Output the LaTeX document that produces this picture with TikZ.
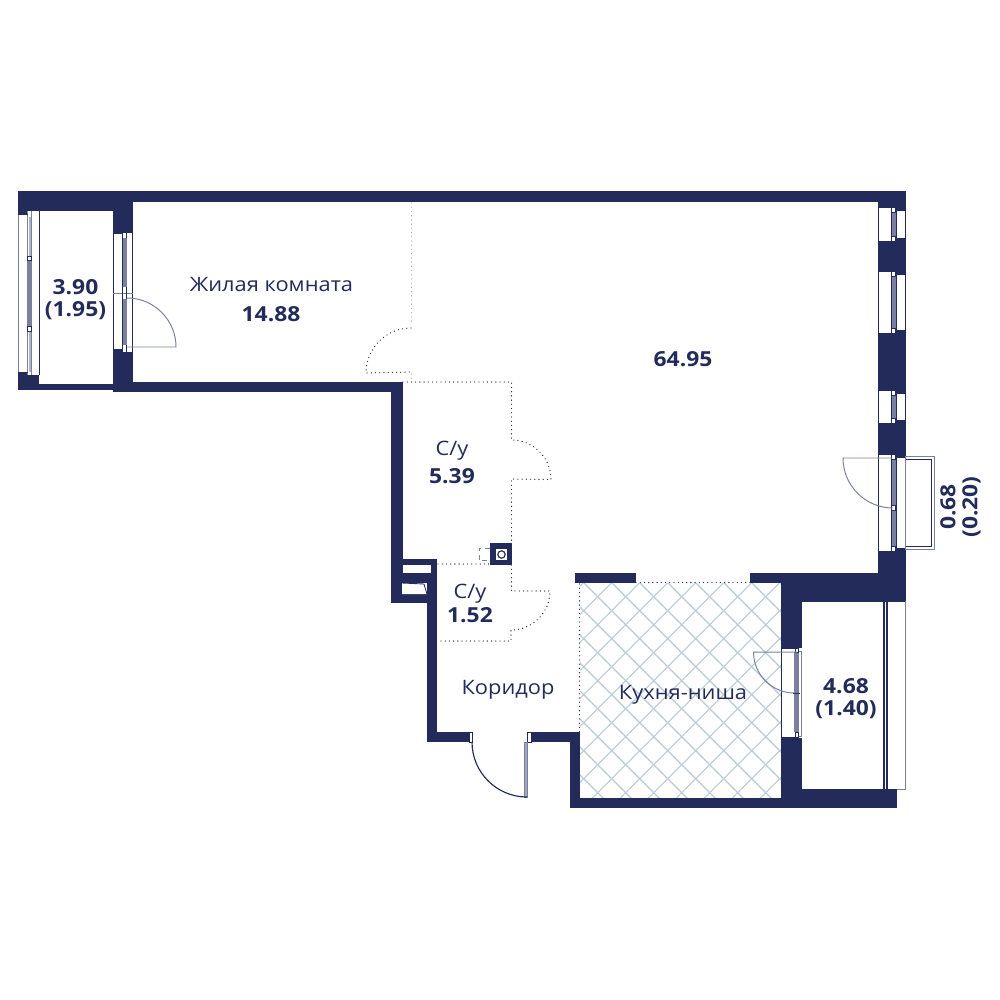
\documentclass[tikz,border=0pt]{standalone}
\usepackage{fontspec}
\setmainfont{Open Sans}[FakeStretch=1.1]
\definecolor{navy}{HTML}{232B5A}
\definecolor{hatch}{HTML}{B9CAD4}
\definecolor{frame}{HTML}{7A80A0}
\tikzset{
 wall/.style={fill=navy,draw=none},
 thin/.style={draw=navy,line width=0.25pt},
 swing/.style={draw=frame,line width=0.28pt},
 dots/.style={draw=navy,line width=0.38pt,line cap=round,dash pattern=on 0pt off 1.2pt},
 lbl/.style={text=navy,font=\fontsize{5.65}{6.4}\selectfont,align=center,inner sep=0pt},
 num/.style={text=navy,font=\fontsize{5.9}{6.3}\selectfont\bfseries,align=center,inner sep=0pt},
}
\begin{document}
\begin{tikzpicture}[x=0.01cm,y=-0.01cm]
\useasboundingbox (0,0) rectangle (1000,1000);
% hatch
\begin{scope}
\clip (580,583) rectangle (781,798);
\foreach \c in {-10,...,30}{
 \draw[hatch,line width=0.32pt] ({1194.4+\c*28-583},583) -- ++(-300,300);
 \draw[hatch,line width=0.32pt] ({1+\c*28+583},583) -- ++(300,300);
}
\end{scope}
% walls
\fill[wall] (18,191) rectangle (906,202);
\fill[wall] (18,191) rectangle (39,214);
\fill[wall] (39,191) rectangle (113,211);
\fill[wall] (18,372) rectangle (39,390);
\fill[wall] (18,384) rectangle (133,390);
\fill[wall] (113,191) rectangle (133,234);
\fill[wall] (113,349) rectangle (133,392);
\fill[wall] (133,382) rectangle (403,392);
\fill[wall] (391,382) rectangle (403,603);
\fill[wall] (391,559) rectangle (437,565);
\fill[wall] (391,593) rectangle (437,603);
\fill[wall] (427,573) rectangle (437,742);
\fill[wall] (431,559) rectangle (437,600);
\fill[wall] (402,573) rectangle (437,583);
\fill[wall] (427,732) rectangle (469,742);
\fill[wall] (531,732) rectangle (580,742);
\fill[wall] (570,732) rectangle (580,808);
\fill[wall] (570,798) rectangle (897,808);
\fill[wall] (781,573) rectangle (802,648);
\fill[wall] (781,738) rectangle (802,808);
\fill[wall] (750,573) rectangle (906,583);
\fill[wall] (781,583) rectangle (906,601);
\fill[wall] (878,191) rectangle (906,601);
\fill[wall] (575,573) rectangle (636,583);
% shaft inner sloped line
\fill[white] (402,583) -- (424,584) -- (427,594) -- (402,594) -- cycle;
\draw[thin] (402,583) -- (424,584) -- (427,594);
% left balcony frame
\fill[white] (18,214) rectangle (28,372);
\draw[swing] (18.5,214) -- (18.5,372);
\fill[white] (28,211) rectangle (39,375);
\draw[thin] (39,211) -- (39,375);
\draw[swing] (27.5,211) -- (27.5,375) (31,211) -- (31,375);
\draw[thin] (18,214) -- (28,214) (18,372) -- (28,372);
\fill[frame!60] (28.5,217) rectangle (30.5,256);
\fill[frame] (28,260) rectangle (31,326);
\fill[frame!60] (28.5,331) rectangle (30.5,372);
\draw[thin,fill=white] (27.5,256) rectangle (31,260) (27.5,326) rectangle (31,331);
% door window to the room
\fill[white] (113,234) rectangle (123,349);
\fill[white] (123,232) rectangle (132.5,352);
\draw[thin] (113,234) -- (113,349) (132.5,232) -- (132.5,352);
\draw[swing] (113,293) -- (133,293);
\draw[thin] (122.5,232) -- (122.5,352) (126.5,232) -- (126.5,352) (122.5,232) -- (132.5,232) (122.5,352) -- (132.5,352);
\fill[frame] (122.5,238) rectangle (126.5,287);
\fill[frame] (122.5,299) rectangle (126.5,345);
\draw[swing] (127,298) arc[start angle=-90,end angle=0,radius=49] -- (127,347);
% right windows
\foreach \a/\b in {207/241,271/333,390/423,454/551}{
 \fill[white] (878,\a) rectangle (892,\b);
 \draw[thin] (892,\a) -- (878.3,\a) -- (878.3,\b) -- (892,\b);
 \fill[white] (892,{\a+3}) rectangle (905.5,{\b-3});
 \draw[thin] (892,{\a+3}) -- (905.5,{\a+3}) -- (905.5,{\b-3}) -- (892,{\b-3});
 \fill[frame] (891.5,{\a+5}) rectangle (896,{\b-5});
 \draw[thin] (891.5,{\a+5}) -- (891.5,{\b-5}) (896,{\a+3}) -- (896,{\b-3});
 \draw[thin,fill=white] (891.5,\a) rectangle (895,{\a+5}) (891.5,{\b-5}) rectangle (895,\b);
}
\draw[thin,fill=white] (891.5,505) rectangle (895,510);
% small balcony
\draw[swing] (905.5,456) rectangle (934,549);
\draw[thin] (905.5,459) -- (931.5,459) -- (931.5,546) -- (905.5,546);
\draw[swing] (892,458) -- (843,458) arc[start angle=180,end angle=90,radius=50];
% lower-right balcony
\fill[white] (802,601) rectangle (905,789);
\fill[wall] (802,789) rectangle (897,808);
\draw[thin] (802,601) -- (905,601);
\draw[swing] (905,601) -- (905,789) -- (897,789);
\draw[navy,line width=0.35pt] (884,601) -- (884,789) (887,601) -- (887,789);
% kitchen window
\fill[white] (781,648) rectangle (798,737);
\fill[white] (798,651) rectangle (802,736);
\draw[thin] (798,648) -- (781.5,648) -- (781.5,737) -- (798,737);
\draw[swing] (798,651) -- (801.5,651) -- (801.5,736) -- (798,736);
\fill[frame] (794,652) rectangle (799,732);
\draw[thin,fill=white] (795,648) rectangle (798,652) (795,732) rectangle (798,737);
\draw[thin] (793,693) -- (800,693);
\draw[swing] (797,652) -- (753.5,652) arc[start angle=180,end angle=90,radius=41];
% entrance door
\draw[thin,fill=white] (469,732) rectangle (472,742);
\draw[thin,fill=white] (527,732) rectangle (531,742);
\fill[frame!70] (524.5,742) rectangle (527.5,797);
\draw[swing] (524.5,742) rectangle (527.5,797);
\draw[navy,line width=0.33pt] (472,742) arc[start angle=180,end angle=90,radius=55];
% dotted partitions
\draw[dots,draw=gray!60] (411.5,203) -- (411.5,324);
\draw[dots] (411,328) arc[start angle=-90,end angle=-180,radius=45] -- (411,372);
\draw[dots,draw=gray!60] (411.5,374) -- (411.5,382);
\draw[dots] (403,382) -- (511.5,382) -- (511.5,440) arc[start angle=-90,end angle=0,radius=39.5] -- (511.5,479) -- (511.5,544);
\draw[dots] (511.5,565) -- (511.5,591) -- (550,591) arc[start angle=0,end angle=90,radius=39] -- (511,641) -- (440,641);
\draw[dots] (438,564) -- (490,564);
\draw[dots] (579.5,584) -- (579.5,732);
\draw[dots] (636,582.5) -- (750,582.5);
% vent
\fill[wall] (490,543) rectangle (512,565);
\fill[white] (496,549) rectangle (507,560);
\draw[navy,line width=0.33pt] (501.5,554.5) circle[radius=3.7];
\draw[frame,line width=0.28pt,dash pattern=on 1.4pt off 1.1pt] (490,548.5) -- (479,548.5) -- (479,560.5) -- (490,560.5);
% labels
\node[lbl] (a) at (271.5,285) {Жилая комната};
\node[num] (b) at (271,314) {14.88};
\node[num] (c) at (683,359) {64.95};
\node[num] (d) at (75.5,300) {3.90\\(1.95)};
\node[lbl] (e) at (452,451) {С/у};
\node[num] (f) at (452,476) {5.39};
\node[lbl] (g) at (470,594) {С/у};
\node[num] (h) at (470,615) {1.52};
\node[lbl] (i) at (508,690) {Коридор};
\node[lbl] (j) at (683,695) {Кухня-ниша};
\node[num] (k) at (846,699) {4.68\\(1.40)};
\node[num,rotate=90] (l) at (960.5,507) {0.68\\(0.20)};
\end{tikzpicture}
\end{document}
